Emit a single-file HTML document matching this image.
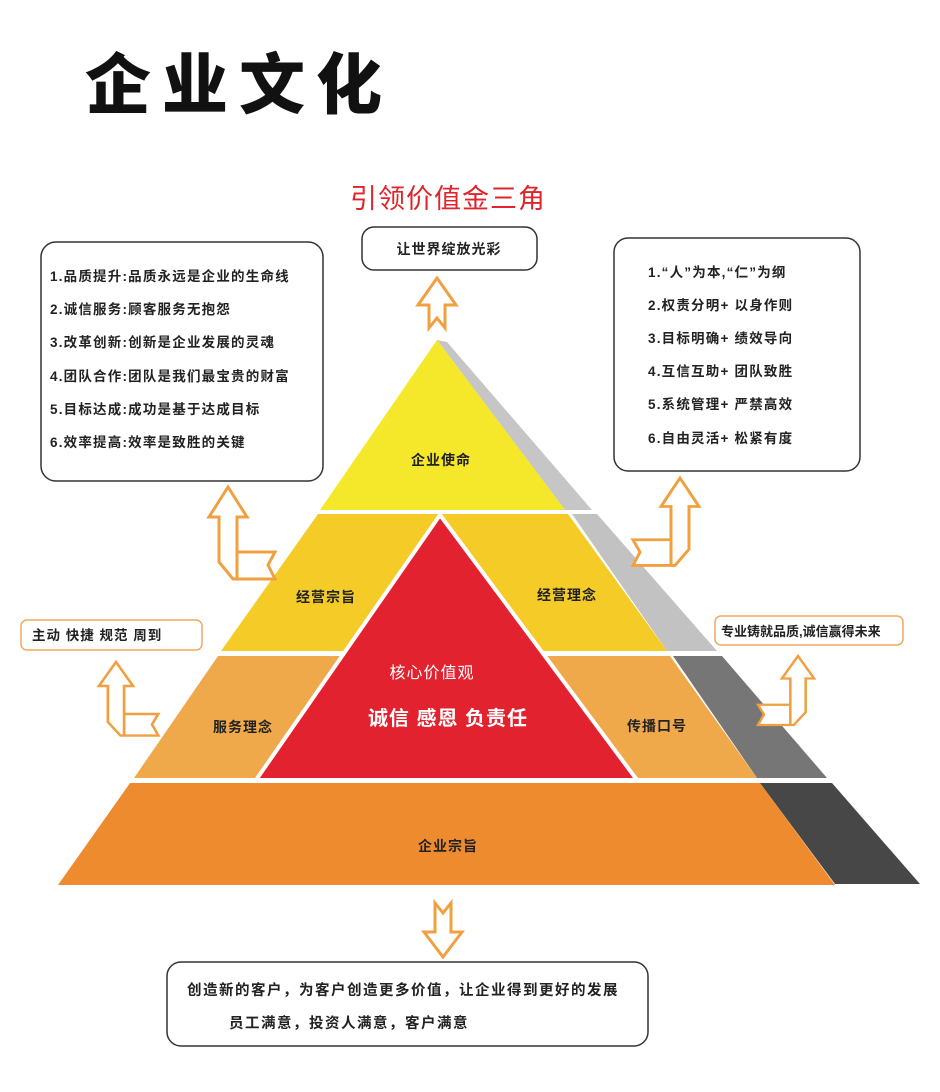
<!DOCTYPE html>
<html><head><meta charset="utf-8"><style>
html,body{margin:0;padding:0;background:#fff;}
body{width:940px;height:1092px;overflow:hidden;position:relative;font-family:"Liberation Sans","Noto Sans CJK SC",sans-serif;}
svg{position:absolute;left:0;top:0;}
text{font-family:"Liberation Sans","Noto Sans CJK SC",sans-serif;}
</style></head><body>
<svg width="940" height="1092" viewBox="0 0 940 1092">
<defs>
<path id="barrow" d="M0,0 L19,30 L9,30 L9,65 L47,65 L40,78 L47,92 L5,92 L-9,75 L-9,30 L-19,30 Z M9,65 L9,92" />
</defs>
<text x="85" y="108" font-size="66" font-weight="900" fill="#111" letter-spacing="11" font-family="'Noto Sans CJK SC',sans-serif">企业文化</text>
<text x="448" y="208" font-size="27" fill="#e0242c" text-anchor="middle" letter-spacing="1">引领价值金三角</text>

<polygon points="447,342 592,510 565,510 437,340" fill="#c6c6c6"/>
<polygon points="572,514 597,514 717,651 667,651" fill="#c2c2c2"/>
<polygon points="673,656 722,656 827,778 757,778" fill="#767676"/>
<polygon points="760,783 832,783 920,884 835,884" fill="#474747"/>

<polygon points="437,340 565,510 320,510" fill="#f5e82a"/>
<polygon points="318,514 568,514 667,651 221,651" fill="#f4cb27"/>
<polygon points="218,656 670,656 757,778 134,778" fill="#f0a94a"/>
<polygon points="130,783 760,783 835,885 58,885" fill="#ee8b2e"/>
<polygon points="440,515 637,780 256,780" fill="#e2222e" stroke="#fff" stroke-width="4" stroke-linejoin="miter"/>
<rect x="130" y="778" width="640" height="5" fill="#fff"/>

<g font-size="14" fill="#222" text-anchor="middle" letter-spacing="1" font-weight="bold">
<text x="441" y="465">企业使命</text>
<text x="326" y="602">经营宗旨</text>
<text x="567" y="600">经营理念</text>
<text x="243" y="732">服务理念</text>
<text x="657" y="731">传播口号</text>
<text x="448" y="851">企业宗旨</text>
</g>
<text x="432" y="678" font-size="16" fill="#fff" text-anchor="middle" letter-spacing="1">核心价值观</text>
<text x="448" y="725" font-size="20" fill="#fff" text-anchor="middle" letter-spacing="1" font-weight="bold">诚信  感恩  负责任</text>

<g fill="#fff" stroke="#333" stroke-width="1.5">
<rect x="362" y="227" width="175" height="43" rx="12"/>
<rect x="41" y="242" width="282" height="239" rx="15"/>
<rect x="614" y="238" width="246" height="233" rx="14"/>
<rect x="167" y="962" width="481" height="84" rx="14"/>
</g>
<g fill="#fff" stroke="#f0a860" stroke-width="1.5">
<rect x="21" y="620" width="181" height="30" rx="6"/>
<rect x="715" y="616" width="188" height="29" rx="6"/>
</g>
<text x="449" y="254" font-size="14" fill="#222" text-anchor="middle" letter-spacing="1" font-weight="bold">让世界绽放光彩</text>
<g font-size="13.5" fill="#222" letter-spacing="1.2" font-weight="bold">
<text x="50" y="281">1.品质提升:品质永远是企业的生命线</text>
<text x="50" y="314">2.诚信服务:顾客服务无抱怨</text>
<text x="50" y="347">3.改革创新:创新是企业发展的灵魂</text>
<text x="50" y="381">4.团队合作:团队是我们最宝贵的财富</text>
<text x="50" y="414">5.目标达成:成功是基于达成目标</text>
<text x="50" y="447">6.效率提高:效率是致胜的关键</text>
<text x="648" y="277">1.“人”为本,“仁”为纲</text>
<text x="648" y="310">2.权责分明+ 以身作则</text>
<text x="648" y="343">3.目标明确+ 绩效导向</text>
<text x="648" y="376">4.互信互助+ 团队致胜</text>
<text x="648" y="409">5.系统管理+ 严禁高效</text>
<text x="648" y="443">6.自由灵活+ 松紧有度</text>
<text x="32" y="640" letter-spacing="1">主动 快捷 规范 周到</text>
<text x="721" y="636" font-size="13" letter-spacing="0">专业铸就品质,诚信赢得未来</text>
</g>
<g font-size="14.5" fill="#222" letter-spacing="1.5" font-weight="bold">
<text x="187" y="995">创造新的客户，为客户创造更多价值，让企业得到更好的发展</text>
<text x="229" y="1028">员工满意，投资人满意，客户满意</text>
</g>

<g fill="#fff" stroke="#f0a040" stroke-width="3" stroke-linejoin="miter">
<polygon points="437,278 456,305 445,305 445,328 437,318 429,328 429,305 418,305"/>
<polygon points="443,957 462,932 451,932 451,903 443,913 435,903 435,932 424,932"/>
<use href="#barrow" transform="translate(228,487)"/>
<use href="#barrow" transform="translate(116,662) scale(0.9,0.8)"/>
<use href="#barrow" transform="translate(680,478) scale(-1,0.95)"/>
<use href="#barrow" transform="translate(798,656) scale(-0.85,0.75)"/>
</g>
</svg>
</body></html>
